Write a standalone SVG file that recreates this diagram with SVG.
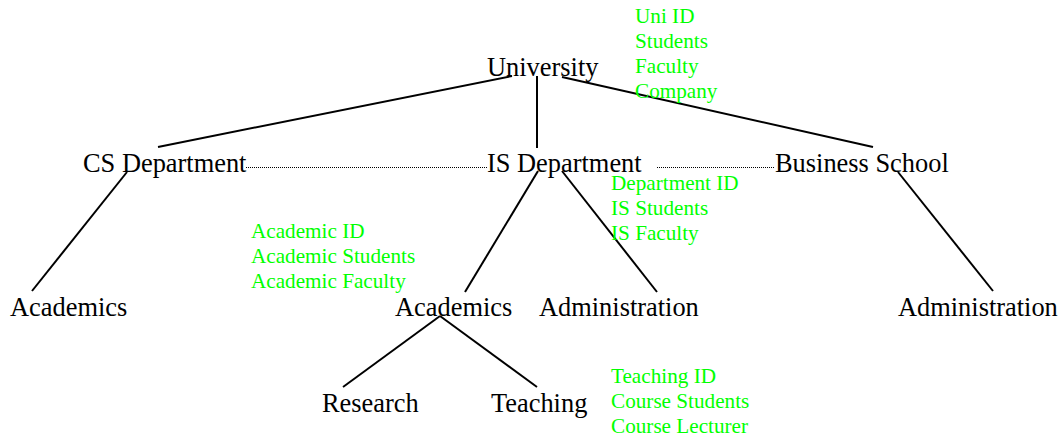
<svg xmlns="http://www.w3.org/2000/svg" width="1062" height="437" viewBox="0 0 1062 437">
<style>
.n{font-family:"Liberation Serif","Times New Roman",serif;font-size:26.4px;fill:#000}
.a{font-family:"Liberation Serif","Times New Roman",serif;font-size:21.2px;fill:#00ff00}
.l{stroke:#000;stroke-width:2;fill:none}
.d{stroke:#000;stroke-width:1;stroke-dasharray:1 1;fill:none}
</style>
<rect width="1062" height="437" fill="#fff"/>
<g id="connectors">
<line class="l" x1="512" y1="76" x2="158" y2="147"/>
<line class="l" x1="537" y1="76" x2="537" y2="148"/>
<line class="l" x1="562" y1="77" x2="873" y2="147"/>
<line class="l" x1="127" y1="172" x2="32" y2="291"/>
<line class="l" x1="538" y1="171" x2="465" y2="292"/>
<line class="l" x1="562" y1="171" x2="657" y2="292"/>
<line class="l" x1="898" y1="172" x2="993" y2="291"/>
<line class="l" x1="440" y1="316" x2="343" y2="387"/>
<line class="l" x1="440" y1="316" x2="537" y2="387"/>
<line class="d" x1="246" y1="167.5" x2="487" y2="167.5"/>
<line class="d" x1="657" y1="167.5" x2="774" y2="167.5"/>
</g>
<g id="university"><text class="n" x="487" y="76">University</text></g>
<g id="university-attrs"><text class="a" x="635" y="23">Uni ID</text><text class="a" x="635" y="48">Students</text><text class="a" x="635" y="73">Faculty</text><text class="a" x="635" y="98">Company</text></g>
<g id="cs-dept"><text class="n" x="83" y="172">CS Department</text></g>
<g id="is-dept"><text class="n" x="487" y="172">IS Department</text></g>
<g id="is-attrs"><text class="a" x="611" y="190">Department ID</text><text class="a" x="611" y="215">IS Students</text><text class="a" x="611" y="240">IS Faculty</text></g>
<g id="business"><text class="n" x="775" y="172">Business School</text></g>
<g id="cs-academics"><text class="n" x="10" y="316">Academics</text></g>
<g id="academic-attrs"><text class="a" x="251" y="238">Academic ID</text><text class="a" x="251" y="263">Academic Students</text><text class="a" x="251" y="288">Academic Faculty</text></g>
<g id="is-academics"><text class="n" x="395" y="316">Academics</text></g>
<g id="is-admin"><text class="n" x="539" y="316">Administration</text></g>
<g id="bs-admin"><text class="n" x="898" y="316">Administration</text></g>
<g id="research"><text class="n" x="322" y="412">Research</text></g>
<g id="teaching"><text class="n" x="491" y="412">Teaching</text></g>
<g id="teaching-attrs"><text class="a" x="611" y="383">Teaching ID</text><text class="a" x="611" y="408">Course Students</text><text class="a" x="611" y="433">Course Lecturer</text></g>
</svg>
